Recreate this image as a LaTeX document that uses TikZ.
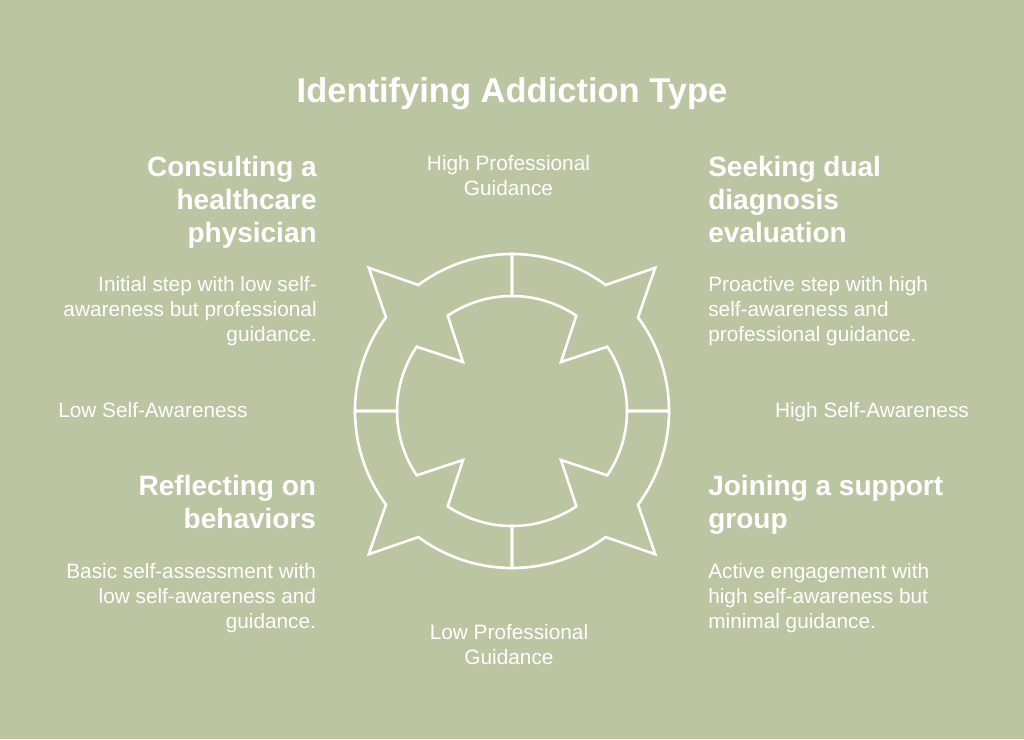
\documentclass[tikz,border=0pt]{standalone}
\usepackage{fontspec}
\setmainfont{Liberation Sans}
\definecolor{bgc}{HTML}{BCC5A2}
\begin{document}
\begin{tikzpicture}[x=1pt,y=-1pt,
  txt/.style={inner sep=0pt,outer sep=0pt,text=white},
  ttl/.style={txt,font=\bfseries\fontsize{34.5}{40}\selectfont},
  head/.style={txt,font=\bfseries\fontsize{28}{32.8}\selectfont},
  body/.style={txt,font=\fontsize{20.8}{25}\selectfont},
  axis/.style={txt,font=\fontsize{20.8}{25}\selectfont},
  ring/.style={draw=white,line width=2.6pt,line join=miter}]
\fill[bgc] (0,0) rectangle (1024,739);
\useasboundingbox (0,0) rectangle (1024,739);
% title
\node[ttl,anchor=base] (title) at (512,102.7) {Identifying Addiction Type};
% axis labels (anchor = baseline of last line)
\node[axis,anchor=base,align=center] (hpg) at (508.5,195) {High Professional\\Guidance};
\node[axis,anchor=base,align=center] (lpg) at (509,664.5) {Low Professional\\Guidance};
\node[axis,anchor=base west] (lsa) at (58.3,417.3) {Low Self-Awareness};
\node[axis,anchor=base west] (hsa) at (775,417.3) {High Self-Awareness};
% top left
\node[head,anchor=base east,align=right] (tlh) at (316.7,242.2) {Consulting a\\healthcare\\physician};
\node[body,anchor=base east,align=right] (tlb) at (316.7,341.7) {Initial step with low self-\\awareness but professional\\guidance.};
% top right
\node[head,anchor=base west,align=left] (trh) at (708.3,242.5) {Seeking dual\\diagnosis\\evaluation};
\node[body,anchor=base west,align=left] (trb) at (708.3,341.7) {Proactive step with high\\self-awareness and\\professional guidance.};
% bottom left
\node[head,anchor=base east,align=right] (blh) at (316,528.2) {Reflecting on\\behaviors};
\node[body,anchor=base east,align=right] (blb) at (316,628.3) {Basic self-assessment with\\low self-awareness and\\guidance.};
% bottom right
\node[head,anchor=base west,align=left] (brh) at (708.3,528.2) {Joining a support\\group};
\node[body,anchor=base west,align=left] (brb) at (708.3,628.3) {Active engagement with\\high self-awareness but\\minimal guidance.};
% ring of four segments
\begin{scope}[shift={(512,411)}]
\foreach \k in {0,1,2,3}{
  \draw[ring,rotate=90*\k]
    (180:157) arc[start angle=180,end angle=143.4,radius=157]
    -- (135:202.5) -- (126.6:157)
    arc[start angle=126.6,end angle=90,radius=157]
    -- (90:115)
    arc[start angle=90,end angle=124,radius=115]
    -- (135:69.3) -- (146:115)
    arc[start angle=146,end angle=180,radius=115]
    -- cycle;
}
\end{scope}
\end{tikzpicture}
\end{document}
